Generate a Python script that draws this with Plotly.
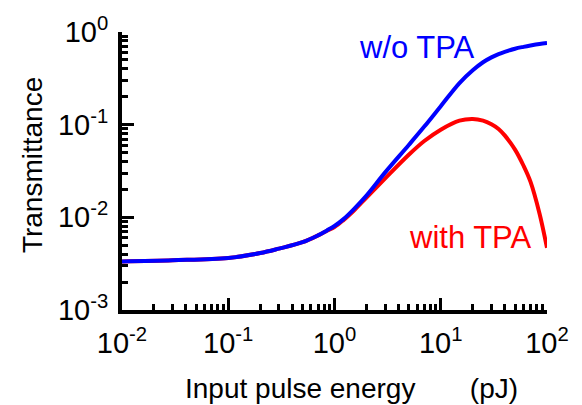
import plotly.graph_objects as go

# Input pulse energy (pJ)
energy = [0.01, 0.03, 0.1, 0.2, 0.3, 0.5, 0.7, 0.85, 1, 1.2, 1.5, 2, 3, 5, 7,
          10, 15, 20, 25, 30, 35, 40, 50, 60, 70, 85, 100]

# Transmittance without two-photon absorption
t_without_tpa = [0.003346, 0.003446, 0.003645, 0.004117, 0.004597, 0.005387,
                 0.006391, 0.007223, 0.008057, 0.009445, 0.01206, 0.01717,
                 0.03055, 0.06038, 0.09530, 0.1583, 0.2810, 0.3860, 0.4715,
                 0.5326, 0.5773, 0.6108, 0.6604, 0.6916, 0.7155, 0.7425, 0.7589]

# Transmittance with two-photon absorption
t_with_tpa = [0.003346, 0.003446, 0.003645, 0.004117, 0.004597, 0.005387,
              0.006391, 0.007170, 0.007863, 0.009220, 0.01162, 0.01636,
              0.02633, 0.04730, 0.06657, 0.08836, 0.1106, 0.1153, 0.1106,
              0.1011, 0.08988, 0.07669, 0.05383, 0.03625, 0.02412, 0.01101,
              0.004688]

x_major = [0.01, 0.1, 1, 10, 100]
x_major_text = ["10<sup>-2</sup>", "10<sup>-1</sup>", "10<sup>0</sup>",
                "10<sup>1</sup>", "10<sup>2</sup>"]
y_major = [0.001, 0.01, 0.1, 1]
y_major_text = ["10<sup>-3</sup>", "10<sup>-2</sup>", "10<sup>-1</sup>", "10<sup>0</sup>"]

x_minor = [k * 10.0 ** n for n in range(-2, 2) for k in range(2, 10)]
y_minor = [k * 10.0 ** n for n in range(-3, 0) for k in range(2, 10)]

FONT = "Liberation Sans, Arial, sans-serif"

fig = go.Figure()
fig.add_trace(go.Scatter(x=energy, y=t_with_tpa, mode="lines",
                         line=dict(color="#ff0000", width=4, shape="spline",
                                   smoothing=1.0),
                         showlegend=False))
fig.add_trace(go.Scatter(x=energy, y=t_without_tpa, mode="lines",
                         line=dict(color="#0000ff", width=4, shape="spline",
                                   smoothing=1.0),
                         showlegend=False))

axis_common = dict(
    type="log", showgrid=False, zeroline=False, showline=True,
    linecolor="black", linewidth=4, ticks="inside", ticklen=12,
    tickwidth=3, tickcolor="black",
    tickfont=dict(family=FONT, size=29, color="black"),
)

fig.update_xaxes(range=[-2, 2], tickvals=x_major, ticktext=x_major_text,
                 minor=dict(tickvals=x_minor, ticks="inside", ticklen=6,
                            tickwidth=3, tickcolor="black"),
                 ticklabelstandoff=4, **axis_common)
fig.update_yaxes(range=[-3, 0], tickvals=y_major, ticktext=y_major_text,
                 minor=dict(tickvals=y_minor, ticks="inside", ticklen=6,
                            tickwidth=3, tickcolor="black"),
                 ticklabelstandoff=4, **axis_common)

# Axis titles
NB = "\u00a0"
fig.add_annotation(x=0.541, y=-0.283, xref="paper", yref="paper",
                   xanchor="center", yanchor="middle",
                   text="Input pulse energy" + NB * 7 + "(pJ)",
                   showarrow=False, font=dict(family=FONT, size=28, color="black"))
fig.add_annotation(x=-0.2106, y=0.523, xref="paper", yref="paper",
                   xanchor="center", yanchor="middle",
                   text="Transmittance", textangle=-90, showarrow=False,
                   font=dict(family=FONT, size=28, color="black"))

# Curve labels
fig.add_annotation(x=0.695, y=0.945, xref="paper", yref="paper",
                   xanchor="center", yanchor="middle",
                   text="w/o TPA", showarrow=False,
                   font=dict(family=FONT, size=31, color="#0000ff"))
fig.add_annotation(x=0.818, y=0.261, xref="paper", yref="paper",
                   xanchor="center", yanchor="middle",
                   text="with TPA", showarrow=False,
                   font=dict(family=FONT, size=31, color="#ff0000"))

fig.update_layout(
    width=582, height=405,
    margin=dict(l=122, r=35, t=27, b=95),
    paper_bgcolor="white", plot_bgcolor="white",
)

fig.write_html("out.html")
